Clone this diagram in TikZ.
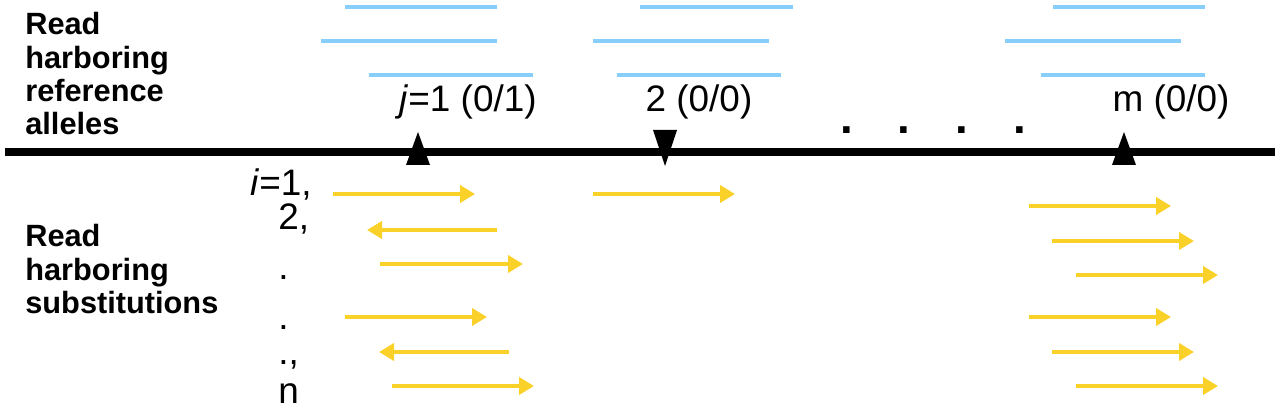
\documentclass[tikz,border=0pt]{standalone}
\usepackage{fontspec}
\setmainfont{Liberation Sans}
\usepackage{tikz}
\usetikzlibrary{arrows.meta,positioning}
\definecolor{readblue}{rgb}{0.53,0.81,0.98}
\definecolor{readyellow}{rgb}{0.98,0.82,0.16}
\tikzset{
  refread/.style={line width=2.3pt,color=readblue},
  subread/.style={line width=2.3pt,color=readyellow,-{Triangle[length=0.3cm,width=0.34cm]}},
  sidelabel/.style={font=\fontsize{17.5}{19}\selectfont\bfseries,align=left,anchor=north west,inner sep=0pt},
  poslabel/.style={font=\fontsize{21}{24}\selectfont,anchor=base}
}
\begin{document}
\begin{tikzpicture}[line cap=butt,x=0.02cm,y=-0.02cm]
\useasboundingbox (0,0) rectangle (1280,411);
% genome
\draw [line width=4.5pt] (5,152) -- (1275,152);
\fill (406,165) -- (430,165) -- (418,132) -- cycle;
\fill (653,130) -- (677,130) -- (665,166) -- cycle;
\fill (1112,165) -- (1136,165) -- (1124,132) -- cycle;
% reference reads
\foreach \y/\a/\b in {7/345/497,7/640/793,7/1053/1205,
                      41/321/497,41/593/769,41/1005/1181,
                      75/369/533,75/617/781,75/1041/1205}
  \draw [refread] (\a,\y) -- (\b,\y);
% substitution reads
\foreach \y/\a/\b in {194/333/475,194/593/735,230/497/367,264/380/523,
                      317/345/487,352/509/379,386/392/534,
                      206/1029/1171,241/1052/1194,275/1076/1218,
                      317/1029/1171,352/1052/1194,386/1076/1218}
  \draw [subread] (\a,\y) -- (\b,\y);
% labels
\node [sidelabel] (reflabel) at (25,12) {Read\\harboring\\reference\\alleles};
\node [sidelabel] (sublabel) at (25,224) {Read\\harboring\\substitutions};
\node [poslabel] (pos1) at (468,112) {\textit{j}=1 (0/1)};
\node [poslabel] (pos2) at (699,112) {2 (0/0)};
\node [poslabel] (posm) at (1171,112) {m (0/0)};
\node [poslabel,font=\fontsize{26}{26}\selectfont\bfseries] (gap) at (933,134) {.\hspace{0.9cm}.\hspace{0.9cm}.\hspace{0.9cm}.};
\node [poslabel,anchor=base west,inner sep=0pt] (i1) at (250,196) {\textit{i}=1,};
\foreach \y/\t in {230/2{,},280/.,330/.,365/.{,},403/n}
  \node [poslabel,anchor=base west,inner sep=0pt] at (278,\y) {\t};
\end{tikzpicture}
\end{document}
